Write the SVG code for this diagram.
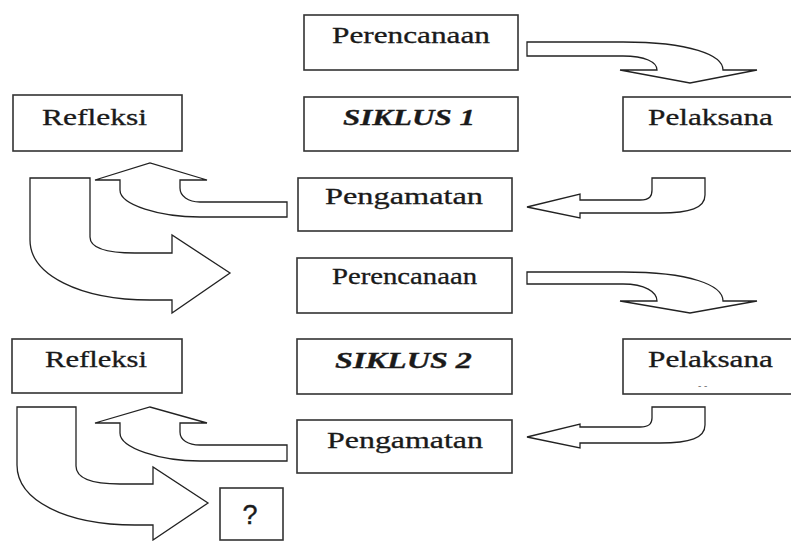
<svg xmlns="http://www.w3.org/2000/svg" width="791" height="541" viewBox="0 0 791 541">
<style>
.box{fill:#fff;stroke:#333;stroke-width:1.6}
.arr{fill:#fff;stroke:#222;stroke-width:1.3;stroke-linejoin:miter}
.t{font-family:"Liberation Serif","Times New Roman",serif;font-size:23px;fill:#1a1a1a;stroke:#1a1a1a;stroke-width:0.3}
.b{font-weight:bold;font-style:italic}
.q{font-family:"Liberation Sans",Arial,sans-serif;font-size:27px;fill:#1a1a1a;stroke:#1a1a1a;stroke-width:0.4}
</style>
<rect width="791" height="541" fill="#fff"/>
<g id="connectors">
<path class="arr" d="M527,42 L623,42 C690,42 723,55 723,70 L757,70 L690,83 L620,70 L657,70 C657,62 645,56 623,56 L527,56 Z"/>
<path class="arr" d="M652,178 L705,178 L705,195 C705,208 690,213 660,213 L580,213 L580,218 L527,207 L580,194 L580,200 L640,200 C650,200 652,196 652,190 Z"/>
<path class="arr" d="M287,202 L200,202 C188,202 180,196 180,188 L180,180 L207,180 L150,163 L95,180 L120,180 L120,190 C120,205 160,217 200,217 L287,217 Z"/>
<path class="arr" d="M30,178 L90,178 L90,237 C90,248 105,253 135,253 L172,253 L172,235 L230,273 L172,313 L172,300 L150,300 C80,300 30,275 30,240 Z"/>
<path class="arr" d="M527,272 L623,272 C690,272 723,285 723,301 L757,301 L690,313 L620,301 L657,301 C657,292 645,284 623,284 L527,284 Z"/>
<path class="arr" d="M652,407 L705,407 L705,425 C705,438 690,443 660,443 L580,443 L580,448 L527,437 L580,424 L580,427 L640,427 C650,427 652,423 652,418 Z"/>
<path class="arr" d="M287,445 L200,445 C188,445 180,440 180,432 L180,423 L207,423 L150,407 L95,423 L120,423 L120,433 C120,448 160,461 200,461 L287,461 Z"/>
<path class="arr" d="M17,407 L76,407 L76,466 C76,478 90,484 120,484 L153,484 L153,467 L208,503 L153,540 L153,525 L135,525 C65,525 17,500 17,465 Z"/>
</g>
<g id="perencanaan1"><rect class="box" x="304" y="15" width="214" height="55"/><text class="t" x="332" y="43" textLength="158" lengthAdjust="spacingAndGlyphs">Perencanaan</text></g>
<g id="siklus1"><rect class="box" x="304" y="97" width="214" height="54"/><text class="t b" x="343" y="125" textLength="132" lengthAdjust="spacingAndGlyphs">SIKLUS 1</text></g>
<g id="pelaksana1"><rect class="box" x="623" y="97" width="175" height="54"/><text class="t" x="648" y="125" textLength="125" lengthAdjust="spacingAndGlyphs">Pelaksana</text></g>
<g id="pengamatan1"><rect class="box" x="298" y="178" width="214" height="53"/><text class="t" x="325" y="204" textLength="158" lengthAdjust="spacingAndGlyphs">Pengamatan</text></g>
<g id="refleksi1"><rect class="box" x="13" y="95" width="169" height="56"/><text class="t" x="42" y="125" textLength="105" lengthAdjust="spacingAndGlyphs">Refleksi</text></g>
<g id="perencanaan2"><rect class="box" x="297" y="258" width="215" height="55"/><text class="t" x="332" y="284" textLength="145" lengthAdjust="spacingAndGlyphs">Perencanaan</text></g>
<g id="siklus2"><rect class="box" x="297" y="339" width="215" height="55"/><text class="t b" x="335" y="368" textLength="137" lengthAdjust="spacingAndGlyphs">SIKLUS 2</text></g>
<g id="pelaksana2"><rect class="box" x="623" y="339" width="175" height="55"/><text class="t" x="648" y="367" textLength="125" lengthAdjust="spacingAndGlyphs">Pelaksana</text><text x="698" y="389" style="font-family:'Liberation Sans',sans-serif;font-size:10px;fill:#777">- -</text></g>
<g id="pengamatan2"><rect class="box" x="297" y="420" width="215" height="53"/><text class="t" x="327" y="448" textLength="156" lengthAdjust="spacingAndGlyphs">Pengamatan</text></g>
<g id="refleksi2"><rect class="box" x="12" y="339" width="170" height="54"/><text class="t" x="45" y="367" textLength="102" lengthAdjust="spacingAndGlyphs">Refleksi</text></g>
<g id="question"><rect class="box" x="220" y="488" width="63" height="52"/><text class="q" x="250" y="524" text-anchor="middle">?</text></g>
</svg>
